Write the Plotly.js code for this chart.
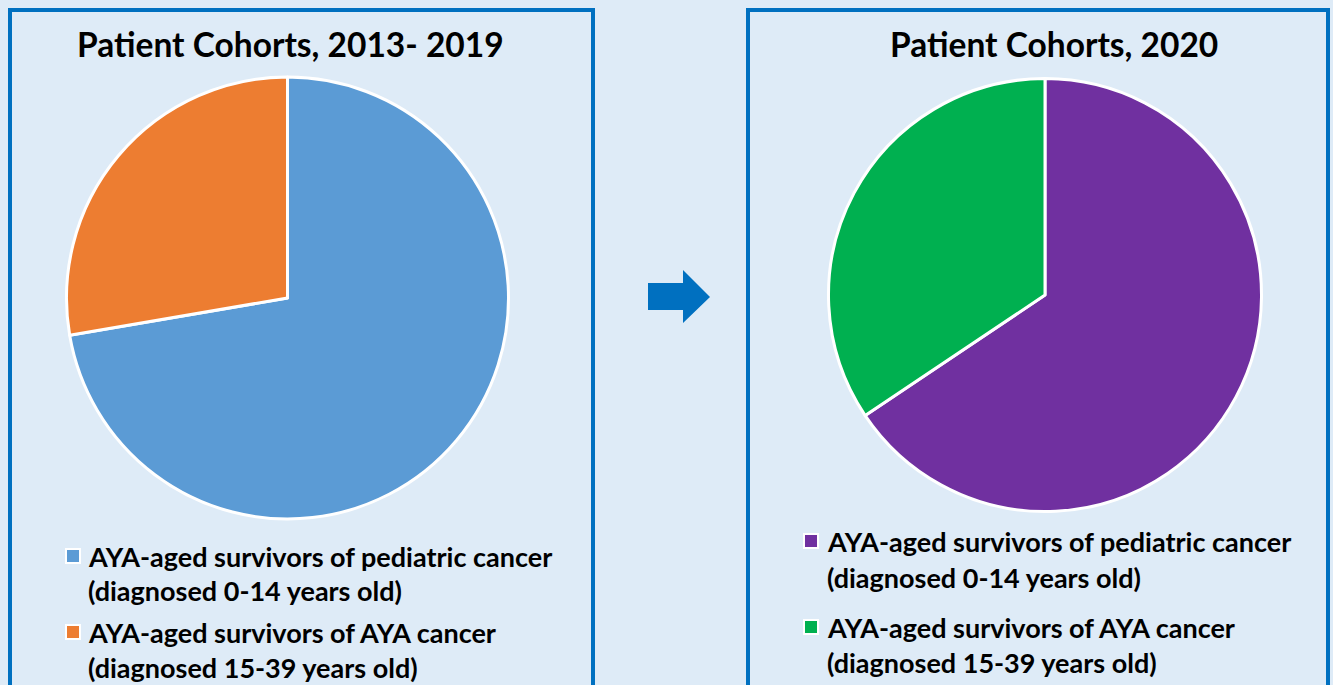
<!DOCTYPE html>
<html>
<head>
<meta charset="utf-8">
<script src="https://cdn.plot.ly/plotly-3.0.1.min.js"></script>
<style>html,body{margin:0;padding:0;background:#DEEBF7;}#chart{width:1333px;height:685px;}</style>
</head>
<body>
<div id="chart"></div>
<script>
// ---- data ----
const panelTitles = ["Patient Cohorts, 2013- 2019", "Patient Cohorts, 2020"];
const cohortLine1 = ["AYA-aged survivors of pediatric cancer", "AYA-aged survivors of AYA cancer"];
const cohortLine2 = ["(diagnosed 0-14 years old)", "(diagnosed 15-39 years old)"];
const values2013 = [72.3, 27.7];
const values2020 = [65.6, 34.4];
const colors2013 = ["#5B9BD5", "#ED7D31"];
const colors2020 = ["#7030A0", "#00B050"];

// ---- layout helpers (pixel -> paper) ----
const W = 1333, H = 685;
const px = x => x / W;
const py = y => 1 - y / H;
const FONT = "Lato, 'Open Sans', sans-serif";
const BORDER = "#0070C0";

const labels = cohortLine1.map((l, i) => l + " " + cohortLine2[i]);

function pieTrace(values, colors, cx, cy, r) {
  return {
    type: "pie",
    labels: labels,
    values: values,
    sort: false,
    direction: "clockwise",
    rotation: 0,
    textinfo: "none",
    hoverinfo: "label+percent",
    showlegend: false,
    marker: { colors: colors, line: { color: "#FFFFFF", width: 3 } },
    domain: { x: [px(cx - r), px(cx + r)], y: [py(cy + r), py(cy - r)] }
  };
}

const data = [
  pieTrace(values2013, colors2013, 287.5, 298, 221),
  pieTrace(values2020, colors2020, 1045, 295, 216.5)
];

const shapes = [
  { type: "rect", xref: "paper", yref: "paper", x0: px(10), x1: px(593), y0: py(710), y1: py(10),
    line: { color: BORDER, width: 4 }, fillcolor: "rgba(0,0,0,0)", layer: "below" },
  { type: "rect", xref: "paper", yref: "paper", x0: px(748), x1: px(1328), y0: py(710), y1: py(10),
    line: { color: BORDER, width: 4 }, fillcolor: "rgba(0,0,0,0)", layer: "below" }
];
// arrow between panels
const arrowPts = [[648,283],[683,283],[683,270],[710,297],[683,323],[683,310],[648,310]];
shapes.push({
  type: "path", xref: "paper", yref: "paper",
  path: "M" + arrowPts.map(p => px(p[0]) + "," + py(p[1])).join(" L") + " Z",
  fillcolor: BORDER, line: { width: 0 }
});

const annotations = [];
const titleX = [290.5, 1053.5];
panelTitles.forEach((t, i) => {
  annotations.push({ xref: "paper", yref: "paper", x: px(titleX[i]), y: py(44), xanchor: "center", yanchor: "middle",
    text: t, showarrow: false, font: { family: FONT, size: 33.5, color: "#000000", weight: 700 } });
});

// legends (one per panel)
const legendCfg = [
  { colors: colors2013, mx: 73, tx: 86, rows: [[556, 590], [632, 667]] },
  { colors: colors2020, mx: 811, tx: 825, rows: [[541, 577], [627, 662]] }
];
legendCfg.forEach(cfg => {
  cfg.rows.forEach((ys, k) => {
    shapes.push({ type: "rect", xref: "paper", yref: "paper",
      x0: px(cfg.mx - 7), x1: px(cfg.mx + 7), y0: py(ys[0] + 7), y1: py(ys[0] - 7),
      fillcolor: cfg.colors[k], line: { color: "#FFFFFF", width: 2 } });
    [cohortLine1[k], cohortLine2[k]].forEach((txt, j) => {
      annotations.push({ xref: "paper", yref: "paper", x: px(cfg.tx), y: py(ys[j]), xanchor: "left", yanchor: "middle",
        text: txt, showarrow: false, font: { family: FONT, size: 27, color: "#000000", weight: 700 } });
    });
  });
});

const layout = {
  width: W, height: H,
  margin: { l: 0, r: 0, t: 0, b: 0 },
  paper_bgcolor: "#DEEBF7",
  plot_bgcolor: "#DEEBF7",
  showlegend: false,
  shapes: shapes,
  annotations: annotations
};

Plotly.newPlot("chart", data, layout, { displayModeBar: false, staticPlot: false });
</script>
</body>
</html>
